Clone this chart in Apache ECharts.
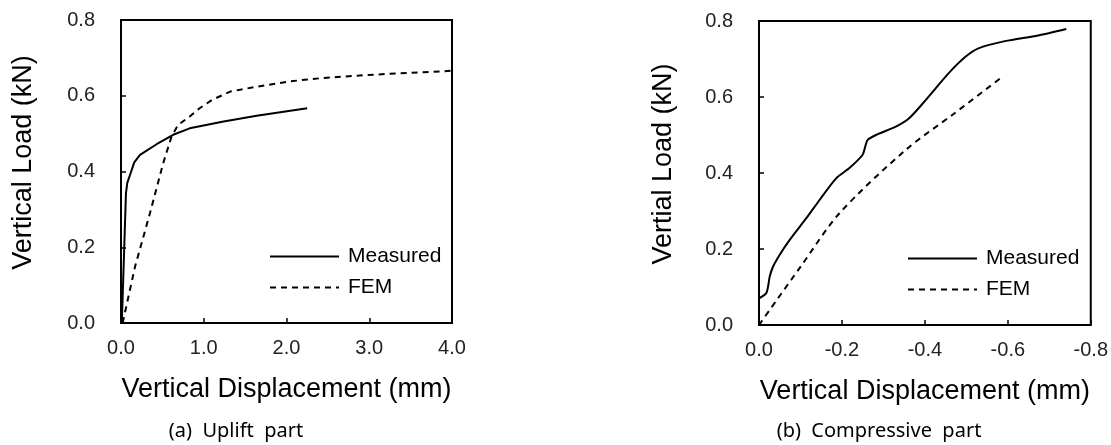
<!DOCTYPE html>
<html>
<head>
<meta charset="utf-8">
<script src="https://cdn.jsdelivr.net/npm/echarts@6/dist/echarts.min.js"></script>
<style>
  html, body { margin: 0; padding: 0; background: #fff; }
  #chart { width: 1111px; height: 445px; }
</style>
</head>
<body>
<div id="chart"></div>
<script>
  // (a) uplift part: [displacement mm, load kN]
  const upliftMeasured = [[0.01, 0], [0.06, 0.343], [0.076, 0.37], [0.117, 0.396], [0.16, 0.424],
    [0.23, 0.444], [0.43, 0.472], [0.63, 0.497], [0.83, 0.514], [1.24, 0.532], [1.64, 0.547], [2.25, 0.567]];
  const upliftFEM = [[0.02, 0], [0.17, 0.149], [0.35, 0.29], [0.51, 0.422], [0.61, 0.492], [0.69, 0.523],
    [0.83, 0.545], [0.95, 0.567], [1.10, 0.589], [1.32, 0.611], [1.64, 0.624], [2.04, 0.638],
    [2.44, 0.647], [2.85, 0.653], [3.25, 0.658], [3.65, 0.662], [4.0, 0.666]];
  // (b) compressive part
  const compMeasured = [[0, 0.07], [-0.018, 0.085], [-0.026, 0.128], [-0.034, 0.154], [-0.05, 0.185],
    [-0.074, 0.224], [-0.114, 0.281], [-0.146, 0.329], [-0.186, 0.386], [-0.218, 0.413], [-0.25, 0.448],
    [-0.256, 0.469], [-0.262, 0.487], [-0.282, 0.5], [-0.33, 0.522], [-0.362, 0.544], [-0.402, 0.592],
    [-0.457, 0.662], [-0.497, 0.705], [-0.529, 0.728], [-0.593, 0.747], [-0.673, 0.762], [-0.741, 0.779]];
  const compFEM = [[0, 0], [-0.1, 0.153], [-0.194, 0.294], [-0.354, 0.461], [-0.47, 0.556], [-0.589, 0.655]];

  const legendNames = ['Measured', 'FEM'];
  const captions = ['(a)  Uplift  part', '(b)  Compressive  part'];

  const font = 'Liberation Sans, Arial, sans-serif';
  const fmt = v => Math.abs(v) < 1e-9 ? '0.0' : v.toFixed(1);

  function xAxis(idx, min, max, interval, inverse) {
    return {
      type: 'value', gridIndex: idx, min: min, max: max, interval: interval, inverse: inverse,
      name: 'Vertical Displacement (mm)', nameLocation: 'middle', nameGap: 53,
      nameTextStyle: { fontFamily: font, fontSize: 27, color: '#000' },
      axisLine: { show: false },
      axisTick: { inside: true, length: 5, lineStyle: { color: '#000', width: 1.5 } },
      axisLabel: { margin: 15, fontFamily: font, fontSize: 20, color: '#222', formatter: fmt },
      splitLine: { show: false }
    };
  }
  function yAxis(idx, name, gap) {
    return {
      type: 'value', gridIndex: idx, min: 0, max: 0.8, interval: 0.2,
      name: name, nameLocation: 'middle', nameGap: gap,
      nameTextStyle: { fontFamily: font, fontSize: 27, color: '#000', padding: [0, 0, 0, 18] },
      axisLine: { show: false },
      axisTick: { inside: true, length: 5, lineStyle: { color: '#000', width: 1.5 } },
      axisLabel: { margin: 26, fontFamily: font, fontSize: 20, color: '#222', formatter: fmt },
      splitLine: { show: false }
    };
  }
  function lineSeries(name, idx, data, dashed, smooth) {
    return {
      name: name, type: 'line', xAxisIndex: idx, yAxisIndex: idx, data: data,
      symbol: 'none', smooth: smooth, animation: false,
      lineStyle: { color: '#000', width: 2, type: dashed ? [6, 5] : 'solid' },
      itemStyle: { color: '#000' }
    };
  }
  function legend(left, top) {
    return {
      data: legendNames, orient: 'vertical', left: left, top: top, padding: 0,
      itemWidth: 69, itemHeight: 20, itemGap: 10, selectedMode: false,
      itemStyle: { opacity: 0, color: 'rgba(0,0,0,0)', borderWidth: 0 },
      textStyle: { fontFamily: font, fontSize: 21, color: '#000', padding: [0, 0, 0, 4] }
    };
  }

  const chart = echarts.init(document.getElementById('chart'));
  chart.setOption({
    backgroundColor: '#fff',
    animation: false,
    grid: [
      { left: 121, top: 20, width: 331, height: 303, show: true, borderColor: '#000', borderWidth: 2, backgroundColor: 'transparent' },
      { left: 759, top: 21, width: 334, height: 304, show: true, borderColor: '#000', borderWidth: 2, backgroundColor: 'transparent' }
    ],
    xAxis: [xAxis(0, 0, 4, 1, false), xAxis(1, -0.8, 0, 0.2, true)],
    yAxis: [yAxis(0, 'Vertical Load (kN)', 84), yAxis(1, 'Vertial Load (kN)', 82)],
    legend: [legend(269, 246), legend(907, 248)],
    series: [
      lineSeries('Measured', 0, upliftMeasured, false, false),
      lineSeries('FEM', 0, upliftFEM, true, false),
      lineSeries('Measured', 1, compMeasured, false, 0.25),
      lineSeries('FEM', 1, compFEM, true, 0.3)
    ],
    graphic: [
      { type: 'text', x: 236, y: 431, style: { text: captions[0], fontFamily: 'Noto Sans, Open Sans, sans-serif', fontSize: 20, fill: '#000', textAlign: 'center', textVerticalAlign: 'middle' } },
      { type: 'text', x: 879, y: 431, style: { text: captions[1], fontFamily: 'Noto Sans, Open Sans, sans-serif', fontSize: 20, fill: '#000', textAlign: 'center', textVerticalAlign: 'middle' } }
    ]
  });
</script>
</body>
</html>
